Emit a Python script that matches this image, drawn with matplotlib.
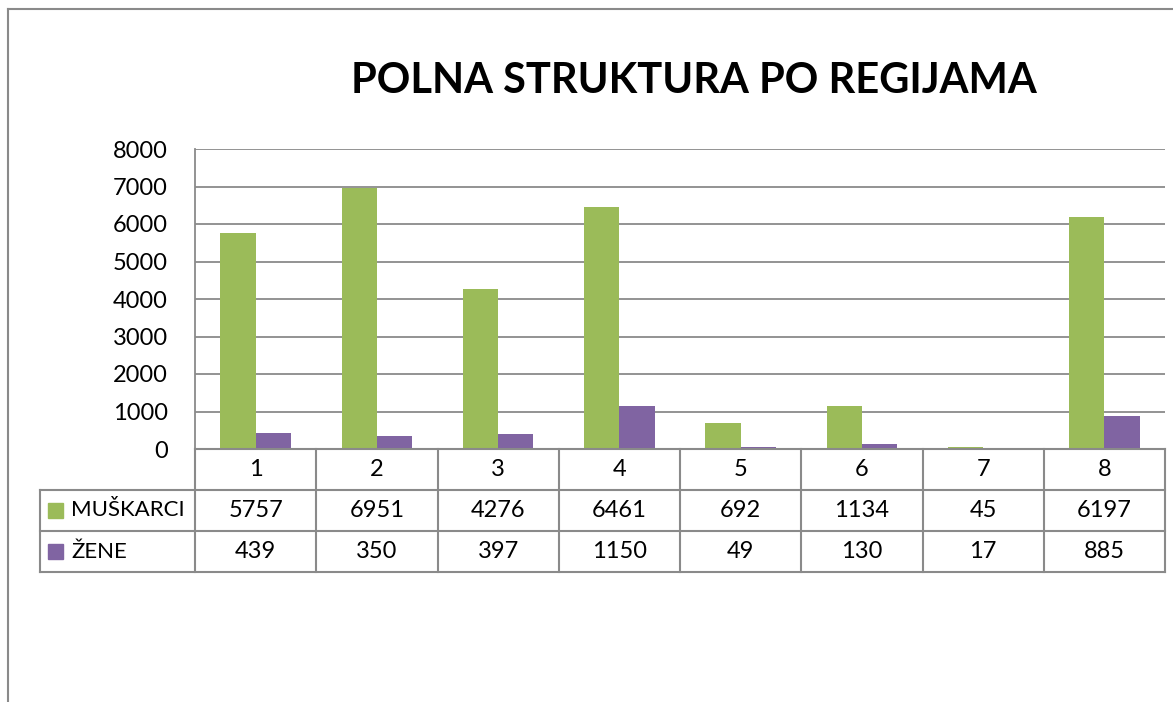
import numpy as np
import matplotlib.pyplot as plt
from matplotlib.lines import Line2D

# data
regions = ["1", "2", "3", "4", "5", "6", "7", "8"]
muskarci = [5757, 6951, 4276, 6461, 692, 1134, 45, 6197]
zene = [439, 350, 397, 1150, 49, 130, 17, 885]
series_names = ["MUŠKARCI", "ŽENE"]
colors = ["#9BBB59", "#8064A2"]
yticks = [0, 1000, 2000, 3000, 4000, 5000, 6000, 7000, 8000]

plt.rcParams["font.family"] = ["Lato", "DejaVu Sans"]
W, H = 1173, 702
grid_c = "#8a8a8a"

fig = plt.figure(figsize=(W / 100, H / 100), dpi=100)

# outer chart border (top and left edges visible)
fig.add_artist(Line2D([8 / W, 1], [1 - 9 / H, 1 - 9 / H], color="#8a8a8a", lw=1.5))
fig.add_artist(Line2D([8 / W, 8 / W], [0, 1 - 9 / H], color="#8a8a8a", lw=1.5))

fig.text(694 / W, 1 - 81 / H, "POLNA STRUKTURA PO REGIJAMA", ha="center", va="center",
         fontsize=30, fontweight="bold")

# plot area
ax = fig.add_axes([195 / W, 1 - 449 / H, 970 / W, 300 / H])
x = np.arange(len(regions))
bw = 0.29
ax.bar(x - bw / 2, muskarci, bw, color=colors[0], zorder=3)
ax.bar(x + bw / 2, zene, bw, color=colors[1], zorder=3)
ax.set_xlim(-0.5, len(regions) - 0.5)
ax.set_ylim(0, 8000)
ax.set_yticks(yticks)
ax.set_yticklabels([str(v) for v in yticks], fontsize=17)
ax.tick_params(axis="y", length=0, pad=19.5)
ax.set_xticks([])
ax.yaxis.grid(True, color=grid_c, lw=1.3, zorder=0)
for s in ["top", "right", "bottom"]:
    ax.spines[s].set_visible(False)
ax.spines["left"].set_color(grid_c)
ax.spines["left"].set_linewidth(1.3)

# data table below the plot, sharing the category x-scale
cw = 970 / len(regions)
left = -0.5 - 155 / cw
tax = fig.add_axes([40 / W, 1 - 572 / H, 1125 / W, 123 / H])
tax.set_xlim(left, len(regions) - 0.5)
tax.set_ylim(3, 0)
tax.axis("off")
lk = dict(color=grid_c, lw=1.5, clip_on=False)
tax.plot([-0.5, len(regions) - 0.5], [0, 0], **lk)
for r in [1, 2, 3]:
    tax.plot([left, len(regions) - 0.5], [r, r], **lk)
for k in range(len(regions) + 1):
    tax.plot([k - 0.5, k - 0.5], [0, 3], **lk)
tax.plot([left, left], [1, 3], **lk)

for i, lab in enumerate(regions):
    tax.text(i, 0.5, lab, ha="center", va="center", fontsize=17)
    tax.text(i, 1.5, str(muskarci[i]), ha="center", va="center", fontsize=17)
    tax.text(i, 2.5, str(zene[i]), ha="center", va="center", fontsize=17)

sq = 15 / cw
for r, (name, c) in enumerate(zip(series_names, colors)):
    x0 = left + 8 / cw
    tax.add_patch(plt.Rectangle((x0, 1.5 + r - 0.18), sq, 0.36, color=c, clip_on=False))
    tax.text(left + 31 / cw, 1.5 + r, name, ha="left", va="center", fontsize=16)

fig.savefig("out.png", dpi=100)
